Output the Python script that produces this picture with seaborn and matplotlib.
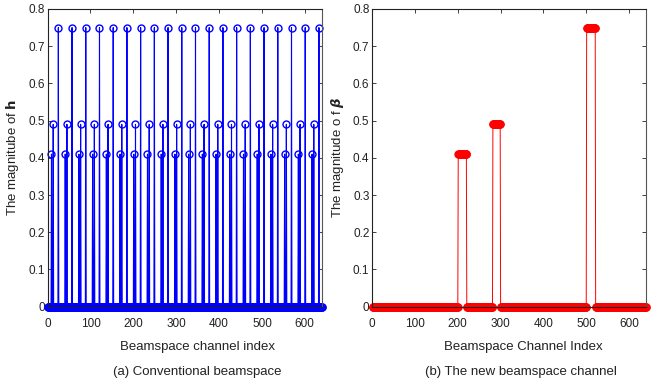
import numpy as np
import pandas as pd
import matplotlib
matplotlib.use("Agg")
import matplotlib.pyplot as plt
import seaborn as sns

# ---- data ----
N = 640
# (a) conventional beamspace: isolated peaks (channel index lists)
h_idx_041 = [9, 41, 73, 105, 137, 169, 201, 233, 265, 297, 329, 361, 393, 425, 457, 489, 521, 553, 585, 617]
h_idx_049 = [13, 45, 77, 109, 141, 173, 205, 237, 269, 301, 333, 365, 397, 429, 461, 493, 525, 557, 589, 621]
h_idx_075 = [25, 57, 89, 121, 153, 185, 217, 249, 281, 313, 345, 377, 409, 441, 473, 505, 537, 569, 601, 633]
h_vals = [0.41, 0.49, 0.75]
# (b) new beamspace channel: contiguous clusters (start, end, value)
beta_start = [201, 282, 501]
beta_end = [220, 299, 521]
beta_vals = [0.41, 0.49, 0.75]

x_ticks = [0, 100, 200, 300, 400, 500, 600]
y_ticks = [0, 0.1, 0.2, 0.3, 0.4, 0.5, 0.6, 0.7, 0.8]
y_ticklabels = ["0", "0.1", "0.2", "0.3", "0.4", "0.5", "0.6", "0.7", "0.8"]

idx = np.arange(1, N + 1)
h = np.zeros(N)
for lst, v in zip([h_idx_041, h_idx_049, h_idx_075], h_vals):
    for i in lst:
        h[i - 1] = v
beta = np.zeros(N)
for s, e, v in zip(beta_start, beta_end, beta_vals):
    beta[s - 1:e] = v

df_h = pd.DataFrame({"idx": idx, "val": h})
df_b = pd.DataFrame({"idx": idx, "val": beta})

sns.set_theme(style="ticks")
plt.rcParams["font.family"] = ["Liberation Sans", "DejaVu Sans"]
plt.rcParams["mathtext.fontset"] = "dejavusans"

fig = plt.figure(figsize=(6.57, 3.84), dpi=100)
axL = fig.add_axes([0.0725, 0.2013, 0.4175, 0.7753])
axR = fig.add_axes([0.5665, 0.2013, 0.4170, 0.7753])

sns.lineplot(data=df_h, x="idx", y="val", ax=axL, color="#0000ff", linewidth=0.8,
             marker="o", markersize=5, markerfacecolor="none", markeredgecolor="#0000ff",
             markeredgewidth=1.0, estimator=None, clip_on=False)
sns.lineplot(data=df_b, x="idx", y="val", ax=axR, color="#ff0000", linewidth=0.7,
             marker="o", markersize=5, markerfacecolor="none", markeredgecolor="#ff0000",
             markeredgewidth=1.0, estimator=None, clip_on=False)

for ax in (axL, axR):
    ax.set_xlim(0, 640)
    ax.set_ylim(0, 0.8)
    ax.set_xticks(x_ticks)
    ax.set_yticks(y_ticks)
    ax.set_yticklabels(y_ticklabels)
    ax.tick_params(direction="in", length=3, width=0.6, labelsize=8.5, colors="#222222",
                   top=True, right=True)
    ax.tick_params(axis="x", pad=8)
    ax.tick_params(axis="y", pad=2)
    for sp in ax.spines.values():
        sp.set_visible(True)
        sp.set_linewidth(0.8)
        sp.set_color("#222222")
    ax.spines["right"].set_color("#555555")

axL.set_xlabel("Beamspace channel index", fontsize=9.5, color="#222222")
axR.set_xlabel("Beamspace Channel Index", fontsize=9.5, color="#222222")
axL.xaxis.set_label_coords(0.545, -0.115)
axR.xaxis.set_label_coords(0.55, -0.115)
axL.set_ylabel(r"The magnitube of $\mathbf{h}$", fontsize=9.5, color="#222222", labelpad=5)
axR.set_ylabel(r"The magnitude o f $\boldsymbol{\beta}$", fontsize=9.5, color="#222222", labelpad=5)

fig.text(197 / 657, 1 - 372 / 384, "(a) Conventional beamspace", fontsize=9.5,
         ha="center", va="center", color="#222222")
fig.text(521 / 657, 1 - 372 / 384, "(b) The new beamspace channel", fontsize=9.5,
         ha="center", va="center", color="#222222")

fig.savefig("out.png", dpi=100)
